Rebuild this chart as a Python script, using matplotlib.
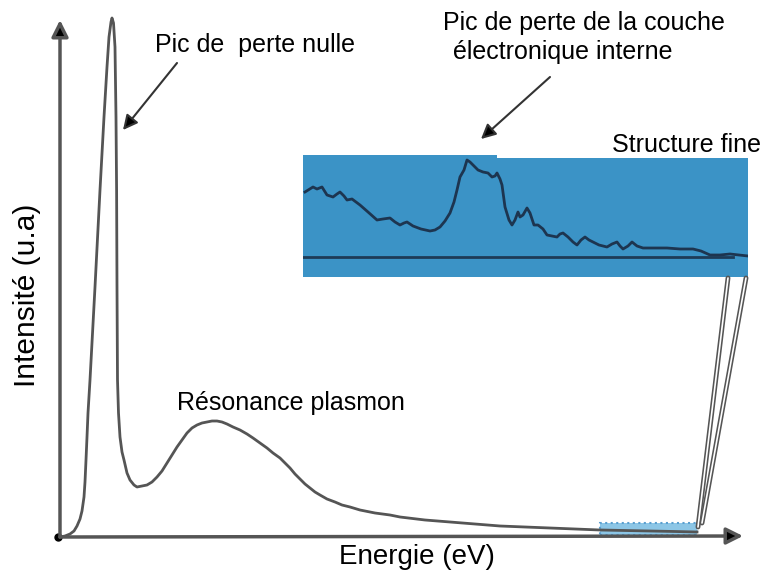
import matplotlib.pyplot as plt
from matplotlib.patches import Rectangle, ConnectionPatch

plt.rcParams['font.family'] = ['Liberation Sans', 'DejaVu Sans']

# spectre principal (unites arbitraires)
energie = [0, 5, 10, 14, 17, 20, 22, 24, 25, 26, 27, 28, 30, 35, 40, 44, 47, 49, 51,
           52, 53.5, 55, 56, 56.6, 57, 57.5, 58.5, 60, 62, 64, 67, 70, 74, 77, 82,
           87, 92, 97, 102, 107, 112, 117, 122, 127, 132, 137, 142, 147, 152, 157,
           162, 167, 173, 180, 187, 193, 200, 207, 213, 220, 225, 230, 235, 240,
           245, 250, 255, 260, 267, 275, 282, 290, 300, 315, 330, 340, 365, 390,
           415, 440, 465, 490, 515, 540, 565, 590, 615, 637]
intensite = [0, 1, 3, 6, 11, 18, 26, 40, 55, 77, 100, 124, 157, 250, 347, 420, 470,
             500, 515, 519, 514, 490, 420, 347, 250, 157, 124, 100, 85, 77, 64, 57,
             52, 50, 51, 52, 55, 60, 66, 74, 82, 90, 97, 104, 109, 112, 114, 115,
             116, 116, 115, 113, 110, 107, 103, 99, 94, 89, 84, 79, 74, 69, 63, 58,
             53, 49, 45, 42, 38, 35, 32, 30, 27, 24, 22, 20, 17, 15, 13, 11, 10, 9,
             8, 7, 6.5, 6, 5.5, 5]

# structure fine (zoom)
e_zoom = [2, 10, 14, 19, 24, 30, 34, 37, 41, 44, 49, 57, 65, 74, 80, 87, 92, 97,
          101, 104, 107, 110, 118, 127, 132, 137, 142, 147, 151, 154, 157, 161,
          164, 167, 170, 175, 180, 185, 189, 192, 194, 197, 199, 202, 206, 209,
          212, 215, 217, 220, 224, 227, 231, 235, 240, 244, 249, 254, 257, 260,
          265, 270, 274, 278, 282, 286, 290, 296, 304, 309, 314, 317, 320, 325,
          329, 334, 340, 352, 364, 377, 390, 398, 407, 417, 427, 436, 445]
i_zoom = [85, 90, 88, 90, 82, 80, 83, 85, 81, 77, 78, 72, 65, 57, 58, 59, 55, 52,
          54, 55, 53, 51, 48, 46, 47, 50, 56, 64, 75, 87, 100, 107, 117, 115, 112,
          107, 105, 104, 100, 101, 104, 98, 92, 70, 57, 52, 57, 65, 60, 62, 69, 64,
          52, 52, 48, 42, 41, 40, 43, 44, 40, 35, 32, 37, 40, 37, 35, 32, 30, 33,
          35, 31, 28, 31, 35, 31, 29, 29, 29, 28, 28, 26, 22, 22, 23, 22, 21]
base_zoom = 20

bleu = '#3b93c6'
gris = '#555555'

fig = plt.figure(figsize=(7.65, 5.74), dpi=100)
ax = fig.add_axes([60 / 765, 37 / 574, 688 / 765, 517 / 574])
ax.set_xlim(0, 688)
ax.set_ylim(0, 517)
ax.axis('off')

# axes avec fleches
ax.annotate('', xy=(0, 517), xytext=(0, 0), annotation_clip=False,
            arrowprops=dict(arrowstyle='-|>', color=gris, lw=2.5, mutation_scale=25,
                            shrinkA=0, shrinkB=0, fc='black', ec=gris))
ax.annotate('', xy=(683, 1), xytext=(0, 0), annotation_clip=False,
            arrowprops=dict(arrowstyle='-|>', color=gris, lw=2.5, mutation_scale=25,
                            shrinkA=0, shrinkB=0, fc='black', ec=gris))
ax.plot([-2], [0], 'o', color='black', ms=5, clip_on=False)

ax.plot(energie, intensite, color=gris, lw=2, solid_joinstyle='round', clip_on=False)

# zone agrandie
ax.add_patch(Rectangle((540, 2), 97, 12, facecolor='#8cc6e6', edgecolor='#5a9fcf',
                       ls=':', lw=1.5, clip_on=False))

ax.text(-33, 242, 'Intensité (u.a)', rotation=90, fontsize=21.5, ha='center', va='center')
ax.text(357, -20, 'Energie (eV)', fontsize=20, ha='center', va='center')
ax.text(95, 492, 'Pic de  perte nulle', fontsize=18, ha='left', va='center')
ax.text(117, 134, 'Résonance plasmon', fontsize=18, ha='left', va='center')
ax.text(383, 514, 'Pic de perte de la couche', fontsize=18, ha='left', va='center')
ax.text(386, 485, ' électronique interne', fontsize=18, ha='left', va='center')
ax.text(552, 392, 'Structure fine', fontsize=18, ha='left', va='center')

fleche = dict(arrowstyle='-|>', color='#333333', lw=1.5, mutation_scale=22,
              shrinkA=0, shrinkB=0, fc='black')
ax.annotate('', xy=(63, 407), xytext=(117, 474), arrowprops=fleche, annotation_clip=False)
ax.annotate('', xy=(421, 398), xytext=(490, 460), arrowprops=fleche, annotation_clip=False)
ax.annotate('', xy=(538, 319), xytext=(600, 370), arrowprops=fleche, annotation_clip=False)

# encart structure fine
axin = fig.add_axes([303 / 765, 297 / 574, 445 / 765, 122 / 574])
axin.set_xlim(0, 445)
axin.set_ylim(0, 122)
axin.axis('off')
axin.add_patch(Rectangle((0, 0), 445, 119, facecolor=bleu, edgecolor='none'))
axin.add_patch(Rectangle((0, 118), 194, 4, facecolor=bleu, edgecolor='none'))
axin.axhline(base_zoom, xmin=0, xmax=430 / 445, color='#1d3b57', lw=2)
axin.plot(e_zoom, i_zoom, color='#1d3550', lw=2, solid_joinstyle='round')

for xa, xb in [(425, (638, 10)), (443, (642, 14))]:
    for c, w in [(gris, 3.5), ('white', 1.2)]:
        fig.add_artist(ConnectionPatch(xyA=(xa, -1), coordsA=axin.transData,
                                       xyB=xb, coordsB=ax.transData, color=c, lw=w))

fig.savefig('out.png', dpi=100)
